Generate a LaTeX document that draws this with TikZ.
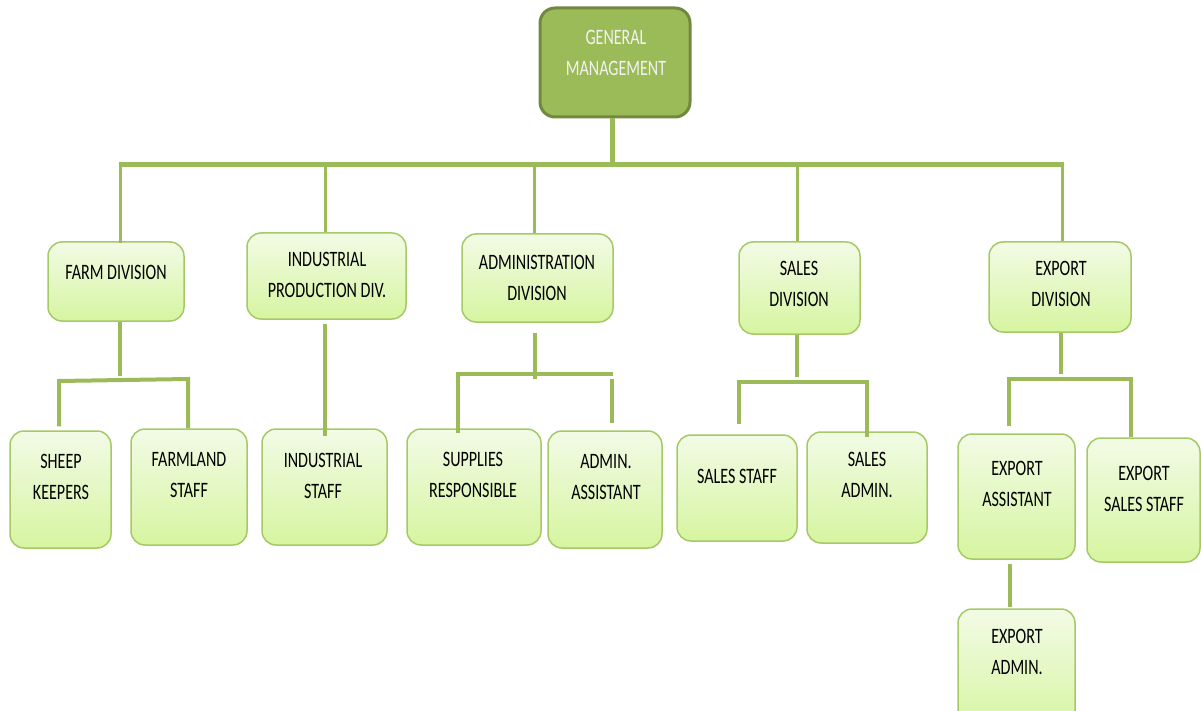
\documentclass[tikz,border=0pt]{standalone}
\usepackage{fontspec}
\newfontfamily\chartfont[FakeStretch=0.73]{Carlito}
\usetikzlibrary{calc}

\definecolor{linkgreen}{HTML}{9BBB59}
\definecolor{headfill}{HTML}{9BBB59}
\definecolor{headline}{HTML}{71893F}
\definecolor{headtext}{HTML}{F2F2F2}
\definecolor{boxline}{HTML}{A6C967}
\definecolor{boxtop}{HTML}{F2FBE6}
\definecolor{boxbot}{HTML}{D6F5A0}

\tikzset{
  headbox/.style={rounded corners=15pt, draw=headline, line width=3pt, fill=headfill, inner sep=0pt},
  unitbox/.style={rounded corners=14pt, draw=boxline, line width=1.5pt, top color=boxtop, bottom color=boxbot, inner sep=0pt},
  lbl/.style={font=\chartfont\fontsize{22}{31}\selectfont, align=center, inner sep=0pt, text=black},
  headlbl/.style={lbl, text=headtext},
  bus/.style={draw=linkgreen, line width=5pt},
  drop/.style={draw=linkgreen, line width=3pt},
  link/.style={draw=linkgreen, line width=4pt, line join=miter},
}

\begin{document}
\begin{tikzpicture}[x=1pt, y=-1pt]
\useasboundingbox (0,0) rectangle (1201,711);
\clip (0,0) rectangle (1201,711);

% ---- boxes ----
\node[headbox, minimum width=150pt, minimum height=109pt] (gm) at (615,62.5) {};
\node[headlbl] (gm-t) at (616,53) {GENERAL\\MANAGEMENT};

\node[unitbox, minimum width=136pt, minimum height=79pt] (farm) at (116,281.5) {};
\node[lbl] (farm-t) at (116,272) {FARM DIVISION};

\node[unitbox, minimum width=159pt, minimum height=86pt] (ind) at (326.5,276) {};
\node[lbl] (ind-t) at (327,275) {INDUSTRIAL\\PRODUCTION DIV.};

\node[unitbox, minimum width=151pt, minimum height=88pt] (adm) at (537.5,278) {};
\node[lbl] (adm-t) at (537,277.5) {ADMINISTRATION\\DIVISION};

\node[unitbox, minimum width=121pt, minimum height=92pt] (sal) at (799.5,288) {};
\node[lbl] (sal-t) at (799,284) {SALES\\DIVISION};

\node[unitbox, minimum width=142pt, minimum height=90pt] (exp) at (1060,287) {};
\node[lbl] (exp-t) at (1061,284) {EXPORT\\DIVISION};

\node[unitbox, minimum width=101pt, minimum height=117pt] (sheep) at (60.5,489.5) {};
\node[lbl] (sheep-t) at (61,477) {SHEEP\\KEEPERS};

\node[unitbox, minimum width=116pt, minimum height=116pt] (fland) at (189,487) {};
\node[lbl] (fland-t) at (189,475) {FARMLAND\\STAFF};

\node[unitbox, minimum width=125pt, minimum height=116pt] (istaff) at (324.5,487) {};
\node[lbl] (istaff-t) at (323,476) {INDUSTRIAL\\STAFF};

\node[unitbox, minimum width=134pt, minimum height=116pt] (supp) at (474,487) {};
\node[lbl] (supp-t) at (473,475) {SUPPLIES\\RESPONSIBLE};

\node[unitbox, minimum width=114pt, minimum height=117pt] (aasst) at (605,489.5) {};
\node[lbl] (aasst-t) at (606,477.5) {ADMIN.\\ASSISTANT};

\node[unitbox, minimum width=120pt, minimum height=106pt] (sstaff) at (737,488) {};
\node[lbl] (sstaff-t) at (737,476) {SALES STAFF};

\node[unitbox, minimum width=120pt, minimum height=111pt] (sadm) at (867,487.5) {};
\node[lbl] (sadm-t) at (867,475) {SALES\\ADMIN.};

\node[unitbox, minimum width=117pt, minimum height=125pt] (easst) at (1016.5,496.5) {};
\node[lbl] (easst-t) at (1017,484) {EXPORT\\ASSISTANT};

\node[unitbox, minimum width=113pt, minimum height=124pt] (esales) at (1143.5,500) {};
\node[lbl] (esales-t) at (1144,489) {EXPORT\\SALES STAFF};

\node[unitbox, minimum width=117pt, minimum height=124pt] (eadm) at (1016.5,671) {};
\node[lbl] (eadm-t) at (1017,651.5) {EXPORT\\ADMIN.};

% ---- top level bus ----
\coordinate (gm-foot) at (612,165);
\coordinate (bus-l) at (120,165);
\coordinate (bus-r) at (1062,165);
\coordinate (d-ind) at (325,165);
\coordinate (d-adm) at (534,165);
\coordinate (d-sal) at (797,165);

\draw[bus] (gm-foot |- gm.south) -- (gm-foot);
\draw[bus] ($(bus-l)+(-1.5,0)$) -- ($(bus-r)+(1.5,0)$);
\draw[drop] (bus-l) -- ($(bus-l |- farm.north)+(0,2)$);
\draw[drop] (d-ind) -- (d-ind |- ind.north);
\draw[drop] (d-adm) -- (d-adm |- adm.north);
\draw[drop] (d-sal) -- (d-sal |- sal.north);
\draw[drop] (bus-r) -- (bus-r |- exp.north);

% ---- farm division ----
\coordinate (farm-j) at (120,376);
\coordinate (farm-l) at (59,381);
\coordinate (farm-r) at (188,379);
\draw[link] (farm-j |- farm.south) -- (farm-j);
\draw[link] ($(farm-l |- sheep.north)+(0,-4)$) -- (farm-l) -- (farm-r) -- (farm-r |- fland.north);

% ---- industrial production ----
\coordinate (ind-x) at (325,0);
\draw[link] ($(ind-x |- ind.south)+(0,4)$) -- ($(ind-x |- istaff.north)+(0,8)$);

% ---- administration ----
\coordinate (adm-j) at (535,379);
\coordinate (adm-l) at (458,374);
\coordinate (adm-r) at (613,374);
\coordinate (adm-rx) at (612,379);
\draw[link] ($(adm-j |- adm.south)+(0,10)$) -- (adm-j);
\draw[link] ($(adm-l |- supp.north)+(0,5)$) -- (adm-l) -- (adm-r);
\draw[link] (adm-rx) -- ($(adm-rx |- aasst.north)+(0,-7)$);

% ---- sales ----
\coordinate (sal-j) at (797,377);
\coordinate (sal-l) at (739,382);
\coordinate (sal-r) at (867,382);
\draw[link] (sal-j |- sal.south) -- (sal-j);
\draw[link] ($(sal-l |- sstaff.north)+(0,-10)$) -- (sal-l) -- (sal-r) -- ($(sal-r |- sadm.north)+(0,6)$);

% ---- export ----
\coordinate (exp-j) at (1061,374);
\coordinate (exp-l) at (1009,379);
\coordinate (exp-r) at (1131,379);
\draw[link] (exp-j |- exp.south) -- (exp-j);
\draw[link] ($(exp-l |- easst.north)+(0,-7)$) -- (exp-l) -- (exp-r) -- (exp-r |- esales.north);
\coordinate (ea-x) at (1010,0);
\draw[link] ($(ea-x |- easst.south)+(0,4)$) -- ($(ea-x |- eadm.north)+(0,-1)$);
\end{tikzpicture}
\end{document}
